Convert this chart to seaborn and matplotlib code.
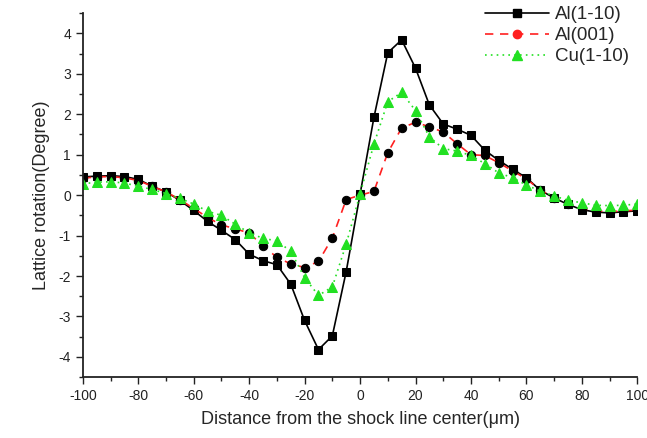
import numpy as np
import pandas as pd
import seaborn as sns
import matplotlib.pyplot as plt
from matplotlib.lines import Line2D
from matplotlib.ticker import MultipleLocator

# distance from the shock line centre (um), every 5 um
distance = list(range(-100, 101, 5))

al_110 = [0.45, 0.47, 0.48, 0.46, 0.39, 0.22, 0.08, -0.13, -0.38, -0.65,
          -0.87, -1.1, -1.46, -1.62, -1.72, -2.2, -3.1, -3.82, -3.48, -1.89,
          0.02, 1.92, 3.52, 3.84, 3.14, 2.23, 1.76, 1.63, 1.48, 1.11,
          0.86, 0.64, 0.43, 0.12, -0.07, -0.23, -0.36, -0.42, -0.44, -0.41,
          -0.39]
al_001 = [0.42, 0.45, 0.46, 0.43, 0.36, 0.22, 0.08, -0.11, -0.33, -0.55,
          -0.74, -0.83, -0.94, -1.25, -1.54, -1.7, -1.79, -1.64, -1.06, -0.11,
          0.0, 0.09, 1.05, 1.66, 1.8, 1.69, 1.56, 1.27, 1.0, 0.98,
          0.8, 0.6, 0.4, 0.13, -0.06, -0.21, -0.33, -0.39, -0.41, -0.39,
          -0.37]
cu_110 = [0.28, 0.32, 0.33, 0.3, 0.22, 0.14, 0.04, -0.08, -0.22, -0.4,
          -0.5, -0.72, -0.93, -1.07, -1.13, -1.39, -2.04, -2.48, -2.27, -1.21,
          0.03, 1.26, 2.31, 2.54, 2.09, 1.44, 1.15, 1.09, 0.98, 0.78,
          0.55, 0.43, 0.25, 0.1, -0.02, -0.13, -0.19, -0.25, -0.26, -0.25,
          -0.22]

sns.set_style('ticks')
plt.rcParams['font.family'] = ['Liberation Sans', 'DejaVu Sans']
plt.rcParams['axes.unicode_minus'] = False

fig = plt.figure(figsize=(6.47, 4.38), dpi=100)
ax = fig.add_axes([0.128, 0.139, 0.857, 0.831])

df = pd.DataFrame({'x': distance, 'a': al_110, 'b': al_001, 'c': cu_110})

sns.lineplot(data=df, x='x', y='a', ax=ax, color='black', lw=1.2,
             marker='s', markersize=6, markeredgecolor='black')
sns.lineplot(data=df, x='x', y='b', ax=ax, color='#ff2020', lw=1.2,
             linestyle=(0, (5, 4)), marker='o', markersize=6,
             markerfacecolor='black', markeredgecolor='black')
sns.lineplot(data=df, x='x', y='c', ax=ax, color='#22e022', lw=1.2,
             linestyle=(0, (1, 2.5)), marker='^', markersize=7,
             markerfacecolor='#22e022', markeredgecolor='#22e022')

ax.set_xlim(-100, 100)
ax.set_ylim(-4.5, 4.5)
ax.xaxis.set_major_locator(MultipleLocator(20))
ax.xaxis.set_minor_locator(MultipleLocator(10))
ax.yaxis.set_major_locator(MultipleLocator(1))
ax.yaxis.set_minor_locator(MultipleLocator(0.5))
ax.tick_params(which='major', length=5, width=1, labelsize=10, colors='#222222')
ax.tick_params(which='minor', length=3, width=1, colors='#222222')
for s in ['left', 'bottom']:
    ax.spines[s].set_linewidth(1.3)
    ax.spines[s].set_color('#222222')
sns.despine(ax=ax)

ax.set_xlabel('Distance from the shock line center(\u03bcm)', fontsize=13, labelpad=6)
ax.set_ylabel('Lattice rotation(Degree)', fontsize=13, labelpad=6)

handles = [
    Line2D([], [], color='black', lw=1.2, marker='s', markersize=6),
    Line2D([], [], color='#ff2020', lw=1.2, linestyle=(0, (5, 4)), marker='o', markersize=6),
    Line2D([], [], color='#22e022', lw=1.2, linestyle=(0, (1, 2.5)), marker='^', markersize=7),
]
ax.legend(handles, ['Al(1-10)', 'Al(001)', 'Cu(1-10)'], loc='upper right',
          bbox_to_anchor=(1.015, 1.065), frameon=False, fontsize=13.5,
          handlelength=3.4, handletextpad=0.3, labelspacing=0.2)

fig.savefig('out.png', dpi=100)
